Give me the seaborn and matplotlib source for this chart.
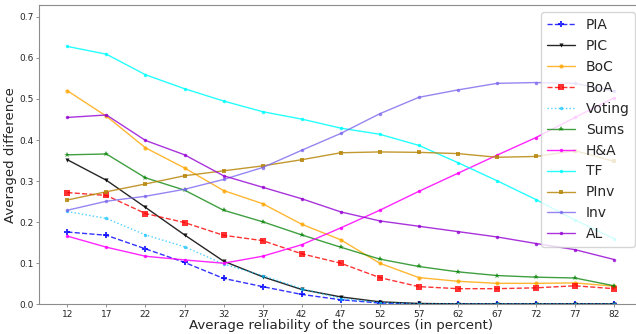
"""Averaged difference vs. average source reliability"""
import numpy as np
import pandas as pd
import matplotlib
matplotlib.use("Agg")
import matplotlib.pyplot as plt
import seaborn as sns

reliability = [12, 17, 22, 27, 32, 37, 42, 47, 52, 57, 62, 67, 72, 77, 82]

pia = [0.176, 0.168, 0.135, 0.102, 0.063, 0.043, 0.024, 0.011, 0.003, 0.001, 0.001, 0.001, 0.001, 0.001, 0.001]
pic = [0.352, 0.302, 0.236, 0.169, 0.105, 0.067, 0.036, 0.018, 0.006, 0.002, 0.001, 0.001, 0.001, 0.001, 0.001]
boc = [0.520, 0.458, 0.381, 0.332, 0.277, 0.245, 0.195, 0.157, 0.100, 0.065, 0.056, 0.051, 0.051, 0.052, 0.044]
boa = [0.272, 0.265, 0.221, 0.199, 0.168, 0.155, 0.123, 0.100, 0.065, 0.043, 0.038, 0.038, 0.040, 0.045, 0.038]
voting = [0.226, 0.209, 0.169, 0.140, 0.098, 0.070, 0.038, 0.014, 0.004, 0.001, 0.001, 0.001, 0.001, 0.001, 0.001]
sums = [0.364, 0.366, 0.308, 0.278, 0.229, 0.201, 0.169, 0.139, 0.110, 0.092, 0.079, 0.070, 0.066, 0.064, 0.045]
h_and_a = [0.166, 0.139, 0.117, 0.108, 0.100, 0.117, 0.145, 0.186, 0.229, 0.275, 0.319, 0.363, 0.406, 0.455, 0.503]
tf = [0.628, 0.609, 0.559, 0.525, 0.495, 0.469, 0.451, 0.429, 0.414, 0.387, 0.345, 0.301, 0.255, 0.205, 0.160]
pinv = [0.254, 0.274, 0.293, 0.313, 0.325, 0.337, 0.352, 0.369, 0.371, 0.370, 0.367, 0.358, 0.360, 0.374, 0.348]
inv = [0.229, 0.251, 0.263, 0.280, 0.304, 0.333, 0.375, 0.416, 0.464, 0.504, 0.522, 0.538, 0.540, 0.538, 0.519]
al = [0.455, 0.461, 0.399, 0.364, 0.313, 0.285, 0.257, 0.225, 0.203, 0.190, 0.177, 0.164, 0.148, 0.133, 0.109]

series = {
    "PIA": pia, "PIC": pic, "BoC": boc, "BoA": boa, "Voting": voting,
    "Sums": sums, "H&A": h_and_a, "TF": tf, "PInv": pinv, "Inv": inv, "AL": al,
}

# color, linestyle, marker, markersize, alpha
styles = {
    "PIA": ("blue", "--", "P", 4, 0.8),
    "PIC": ("black", "-", "v", 3, 0.85),
    "BoC": ("orange", "-", "o", 3, 0.8),
    "BoA": ("red", "--", "s", 4, 0.8),
    "Voting": ("deepskyblue", ":", "o", 2.5, 0.7),
    "Sums": ("green", "-", "*", 4, 0.75),
    "H&A": ("magenta", "-", "o", 2.5, 0.85),
    "TF": ("cyan", "-", "o", 2.5, 0.85),
    "PInv": ("darkgoldenrod", "-", "s", 2.5, 0.85),
    "Inv": ("mediumslateblue", "-", "o", 2.5, 0.8),
    "AL": ("darkviolet", "-", "o", 2.5, 0.8),
}

sns.set_style("ticks")
plt.rcParams['font.family'] = ['DejaVu Sans']

fig = plt.figure(figsize=(6.36, 3.34), dpi=100)
ax = fig.add_axes([0.0617, 0.089, 0.948, 0.895])

for name, values in series.items():
    color, ls, marker, ms, alpha = styles[name]
    df = pd.DataFrame({"reliability": reliability, "diff": values})
    sns.lineplot(data=df, x="reliability", y="diff", ax=ax, color=color,
                 linestyle=ls, marker=marker, markersize=ms, linewidth=1,
                 markeredgewidth=0, alpha=alpha, label=name)

ax.set_xlim(8.4, 85.6)
ax.set_ylim(0, 0.728)
ax.set_xticks(reliability)
ax.set_yticks(np.arange(0, 0.71, 0.1))
ax.tick_params(labelsize=6.5, length=2, width=0.6, color="0.5", pad=2)
ax.set_xlabel("Average reliability of the sources (in percent)", fontsize=9.6, labelpad=0)
ax.set_ylabel("Averaged difference", fontsize=9.6, labelpad=2)
for side in ax.spines.values():
    side.set_color("0.55")

ax.legend(loc="upper right", fontsize=10, frameon=True, framealpha=0.8)

fig.savefig("out.png", dpi=100)
plt.close(fig)
